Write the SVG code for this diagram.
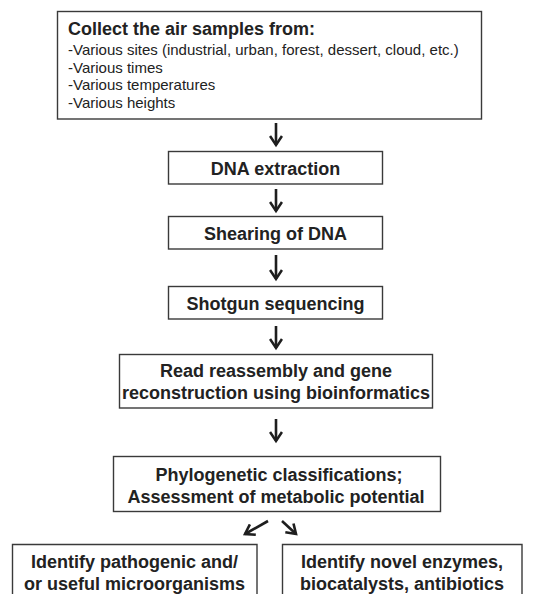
<svg xmlns="http://www.w3.org/2000/svg" width="535" height="594" viewBox="0 0 535 594">
<defs>
<style>
.box{fill:#fff;stroke:#3a3a3a;stroke-width:1.4}
.t{font-family:"Liberation Sans",Arial,sans-serif;fill:#222}
.b{font-weight:bold;font-size:18px}
.r{font-size:15px}
.c{text-anchor:middle}
.arr{fill:none;stroke:#1e1e1e;stroke-width:2.6}
</style>
<marker id="ah" viewBox="0 0 14 14" refX="11" refY="7" markerWidth="14" markerHeight="14" markerUnits="userSpaceOnUse" orient="auto">
<path d="M2,1 L11,7 L2,13" fill="none" stroke="#1e1e1e" stroke-width="2.6"/>
</marker>
</defs>
<rect width="535" height="594" fill="#fff"/>
<g id="n1">
<rect class="box" x="57.5" y="11.5" width="424" height="107.5"/>
<text class="t b" x="68" y="35">Collect the air samples from:</text>
<text class="t r" x="68" y="55">-Various sites (industrial, urban, forest, dessert, cloud, etc.)</text>
<text class="t r" x="68" y="72.5">-Various times</text>
<text class="t r" x="68" y="90">-Various temperatures</text>
<text class="t r" x="68" y="107.5">-Various heights</text>
</g>
<g id="n2">
<rect class="box" x="168.5" y="151.5" width="214" height="32.5"/>
<text class="t b c" x="275.5" y="174.5">DNA extraction</text>
</g>
<g id="n3">
<rect class="box" x="168.5" y="216.5" width="214" height="32.5"/>
<text class="t b c" x="275.5" y="239.5">Shearing of DNA</text>
</g>
<g id="n4">
<rect class="box" x="168.5" y="286.5" width="214" height="32.5"/>
<text class="t b c" x="275.5" y="309.5">Shotgun sequencing</text>
</g>
<g id="n5">
<rect class="box" x="119.5" y="354.5" width="313" height="53.5"/>
<text class="t b c" x="276" y="376.5">Read reassembly and gene</text>
<text class="t b c" x="276" y="398.5">reconstruction using bioinformatics</text>
</g>
<g id="n6">
<rect class="box" x="113.5" y="456.5" width="327" height="55"/>
<text class="t b c" x="279" y="481">Phylogenetic classifications;</text>
<text class="t b c" x="276" y="503">Assessment of metabolic potential</text>
</g>
<g id="n7">
<path class="box" d="M12.5,600 V544.5 H257 V600"/>
<text class="t b c" x="134.5" y="568">Identify pathogenic and/</text>
<text class="t b c" x="134.5" y="590">or useful microorganisms</text>
</g>
<g id="n8">
<path class="box" d="M282.5,600 V544.5 H522 V600"/>
<text class="t b c" x="402" y="568">Identify novel enzymes,</text>
<text class="t b c" x="402" y="590">biocatalysts, antibiotics</text>
</g>
<g id="connectors">
<line class="arr" x1="276" y1="123" x2="276" y2="145" marker-end="url(#ah)"/>
<line class="arr" x1="276" y1="189" x2="276" y2="211" marker-end="url(#ah)"/>
<line class="arr" x1="276" y1="255" x2="276" y2="279" marker-end="url(#ah)"/>
<line class="arr" x1="276" y1="326" x2="276" y2="348" marker-end="url(#ah)"/>
<line class="arr" x1="276" y1="419" x2="276" y2="441" marker-end="url(#ah)"/>
<line class="arr" x1="268" y1="521" x2="245" y2="534" marker-end="url(#ah)"/>
<line class="arr" x1="282" y1="521" x2="296" y2="534" marker-end="url(#ah)"/>
</g>
</svg>
